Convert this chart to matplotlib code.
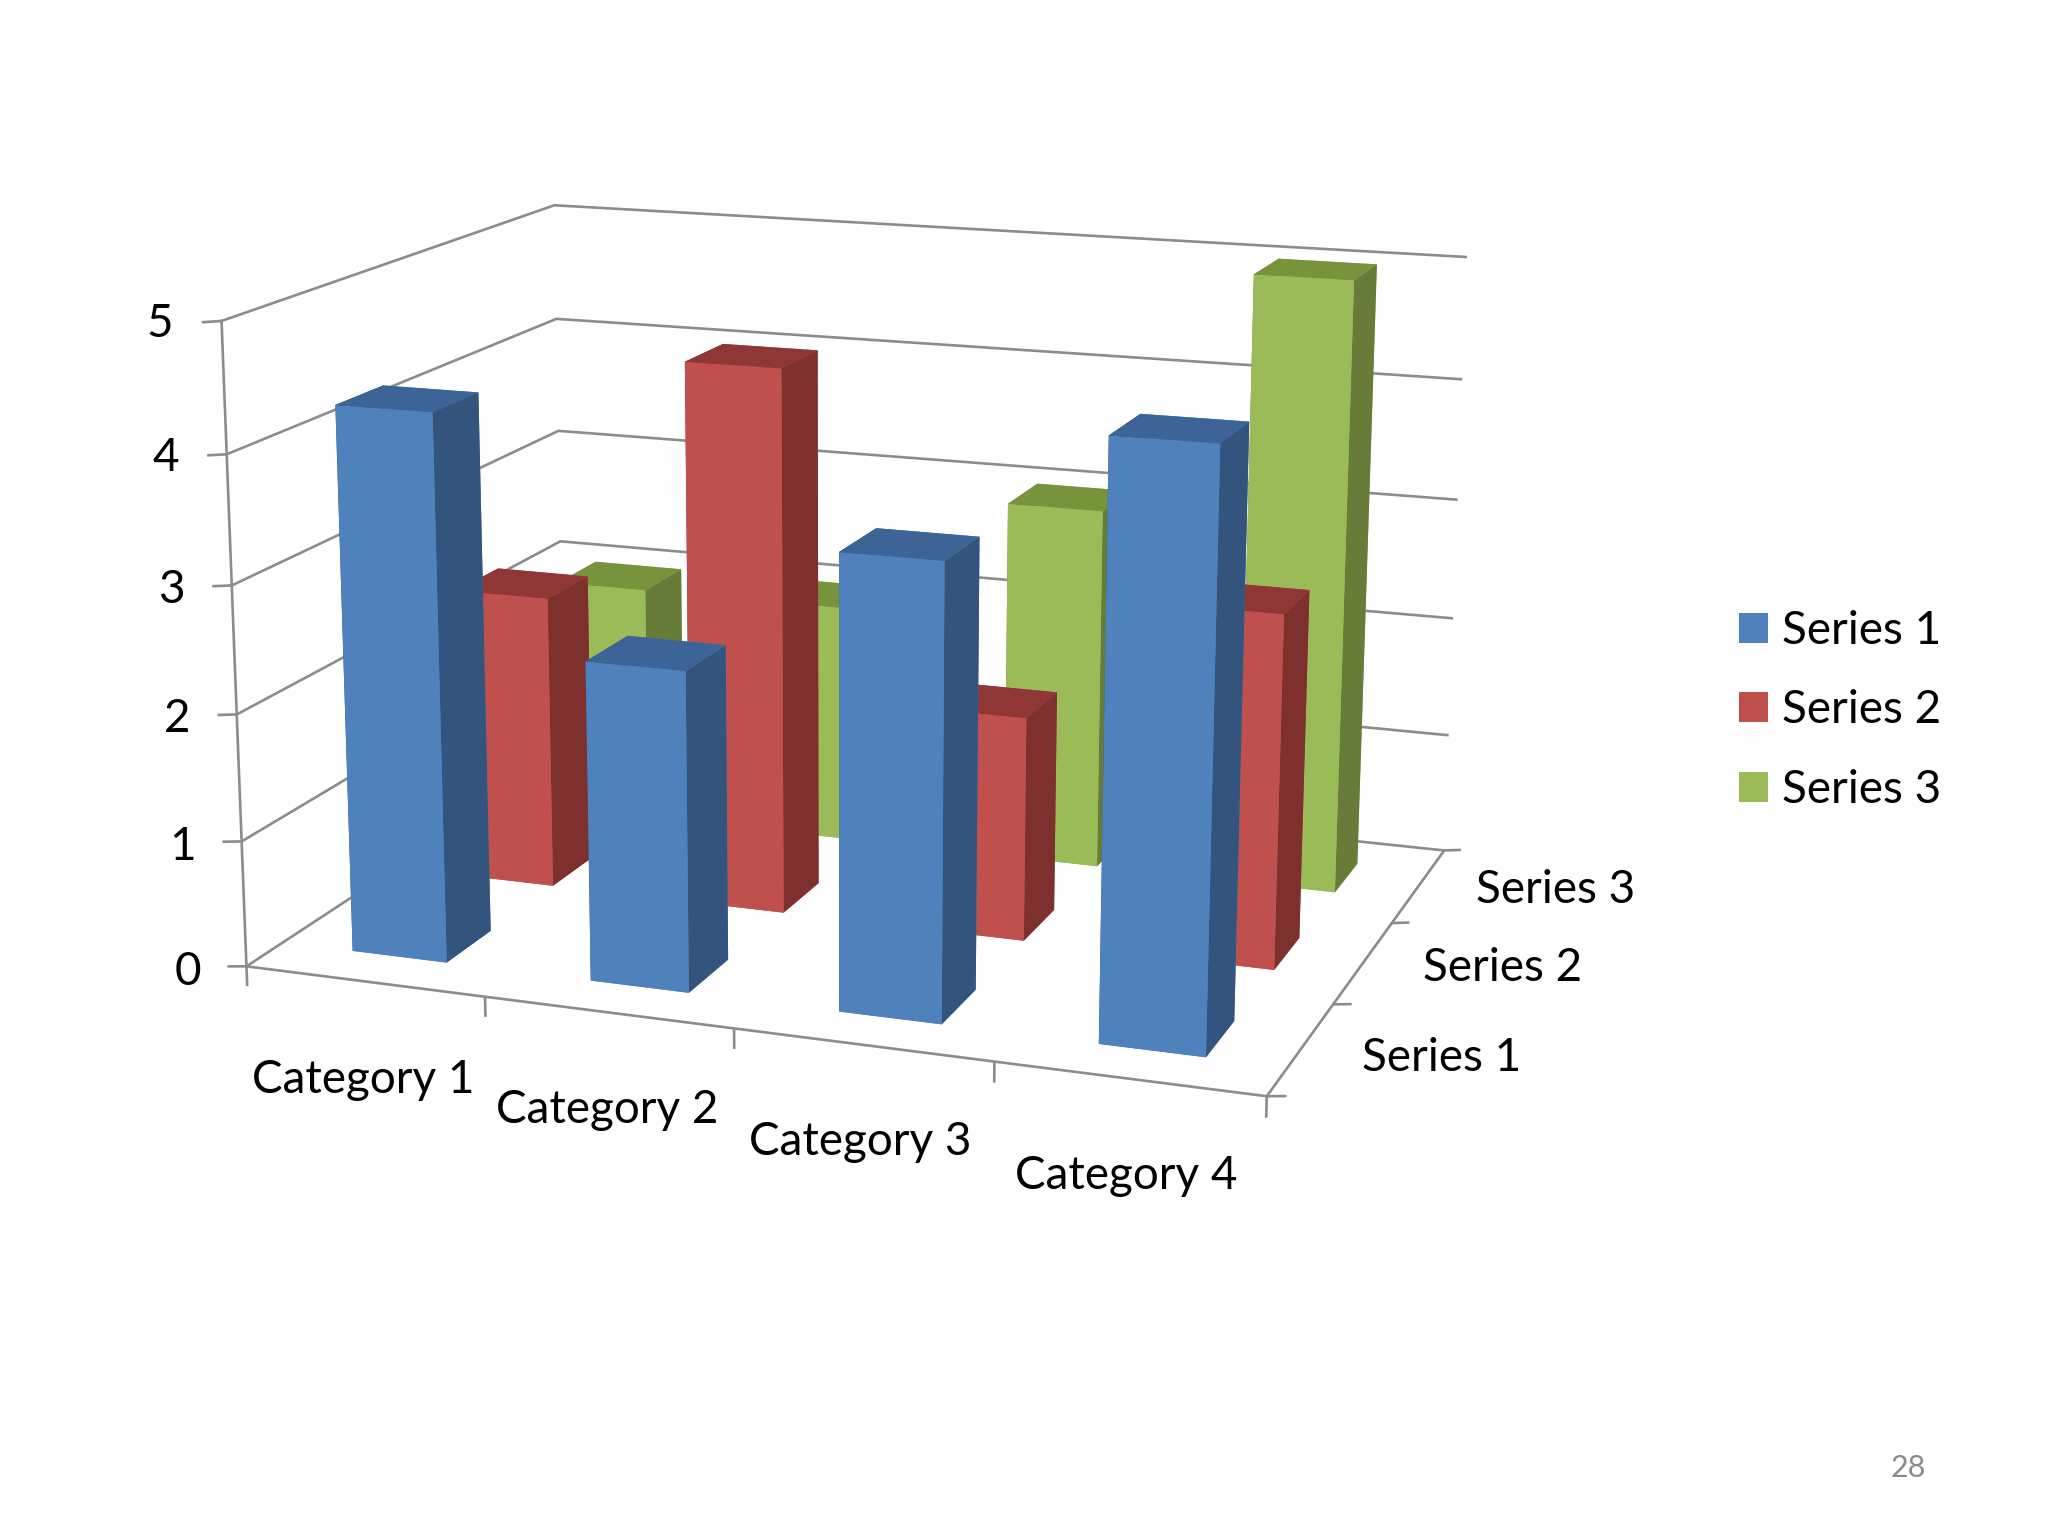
import numpy as np
import matplotlib
matplotlib.use("Agg")
import matplotlib.pyplot as plt
from matplotlib.patches import Patch
from mpl_toolkits.mplot3d.art3d import Line3DCollection

categories = ["Category 1", "Category 2", "Category 3", "Category 4"]
series_names = ["Series 1", "Series 2", "Series 3"]
series1 = [4.3, 2.5, 3.5, 4.5]
series2 = [2.4, 4.4, 1.8, 2.8]
series3 = [2.0, 2.0, 3.0, 5.0]
z_ticks = [0, 1, 2, 3, 4, 5]

# face colours: front, side, top
blue = ("#4F81BD", "#33547D", "#3C6497")
red = ("#C0504D", "#7D302E", "#8F3736")
green = ("#9BBB59", "#667C38", "#77933C")
line_color = "#8C8C8C"

# camera calibration: box corners -> reference pixels
calib_box = np.array([
    (0,0,0),(1,0,0),(4,0,0),(4,1,0),(4,2,0),(4,3,0),(0,3,0),
    (0,0,1),(0,0,3),(0,0,4),(0,0,5),
    (0,3,5),(0,3,4),(0,3,3),(0,3,2),
    (4,3,5),(4,3,4),(4,3,3)], float)
calib_px = np.array([
    (247.3,966),(485,997.3),(1265.6,1096),(1334,1004),(1393,923),(1444,851),(563,757),
    (241.7,841.7),(231.7,585.7),(226.7,454),(220.7,321),
    (555,205),(556.7,319),(559,431),(560,541.7),
    (1467,257),(1462,379),(1457,500)], float)

def fit_camera(box, px):
    u, v = px[:, 0], 1536 - px[:, 1]
    rows = []
    for (X, Y, Z), a, b in zip(box, u, v):
        rows.append([X, Y, Z, 1, 0, 0, 0, 0, -a*X, -a*Y, -a*Z, -a])
        rows.append([0, 0, 0, 0, X, Y, Z, 1, -b*X, -b*Y, -b*Z, -b])
    P = np.linalg.svd(np.array(rows))[2][-1].reshape(3, 4)
    P = P / P[2, 3]
    return np.vstack([P[0], P[1], [0, 0, 0, -1], P[2]])

M = fit_camera(calib_box, calib_px)

plt.rcParams["font.family"] = ["Lato", "DejaVu Sans"]
FS = 33
LW = 1.9
fig = plt.figure(figsize=(20.48, 15.36), dpi=100, facecolor="white")
ax = fig.add_axes([0, -256/1536, 1, 2048/1536], projection="3d")
ax.patch.set_visible(False)
ax.computed_zorder = False
ax.get_proj = lambda: M
ax.viewLim.intervalx = (0, 2048)
ax.viewLim.intervaly = (-256, 1792)

width = 0.4
for s, (vals, cols) in enumerate(zip([series1, series2, series3], [blue, red, green])):
    front, side, top = cols
    faces = [front, top, front, front, side, side]
    for c, val in enumerate(vals):
        col = ax.bar3d(c + 0.3, s + 0.3, 0, width, width, val, color=faces, shade=False,
                       linewidth=0)
        col.set_zorder(10 + (2 - s) * 10 + c)

ax.set_xlim(0, 4)
ax.set_ylim(0, 3)
ax.set_zlim(0, 5)

for axis in (ax.xaxis, ax.yaxis, ax.zaxis):
    axis.set_pane_color((1, 1, 1, 0))
    axis.pane.set_edgecolor((1, 1, 1, 0))
    axis.line.set_color(line_color)
    axis.line.set_linewidth(LW)
    axis._axinfo["grid"].update(color=line_color, linewidth=LW, linestyle="-")
ax.xaxis.gridlines.set_visible(False)
ax.yaxis.gridlines.set_visible(False)
ax.zaxis.set_ticks_position("lower")

ax.set_xticks([0.645, 1.624, 2.598, 3.58], categories)
ax.set_yticks([0.76, 1.816, 2.84], series_names)
ax.set_zticks(z_ticks, [str(t) for t in z_ticks])
ax.tick_params(axis="x", pad=70, color=(0, 0, 0, 0), labelsize=FS)
ax.tick_params(axis="y", pad=24.5, color=(0, 0, 0, 0), labelsize=FS)
ax.tick_params(axis="z", pad=26.5, color=(0, 0, 0, 0), labelsize=FS)
for tick, pad in zip(ax.xaxis.get_major_ticks(), [72.7, 70.3, 68.6, 67.2]):
    tick._apply_params(pad=pad)
for t in ax.get_xticklabels():
    t.set_va("center"); t.set_ha("center")
for t in ax.get_yticklabels():
    t.set_va("center"); t.set_ha("left")
for t in ax.get_zticklabels():
    t.set_va("center"); t.set_ha("center")

# short tick marks
segments = []
for x in range(5):
    segments.append([(x, 0, 0), (x, 0, -0.16)])
for y in range(4):
    segments.append([(4, y, 0), (4.07, y, 0.02)])
for z in z_ticks:
    segments.append([(0, 0, z), (-0.082, 0, z - 0.02)])
ticks = Line3DCollection(segments, colors=line_color, linewidths=LW, zorder=1)
ax.add_collection3d(ticks, autolim=False)

handles = [Patch(facecolor=c[0], edgecolor="none") for c in (blue, red, green)]
fig.legend(handles, series_names, loc="upper left", bbox_to_anchor=(1739/2048, 1-610/1536),
           frameon=False, fontsize=FS, handlelength=0.63, handleheight=0.63,
           handletextpad=0.31, labelspacing=0.815, borderpad=0, borderaxespad=0)
fig.text(1908/2048, 1-1468/1536, "28", fontsize=22, color="#8B8B8B", ha="center", va="center")

fig.savefig("out.png", dpi=100, facecolor="white")
